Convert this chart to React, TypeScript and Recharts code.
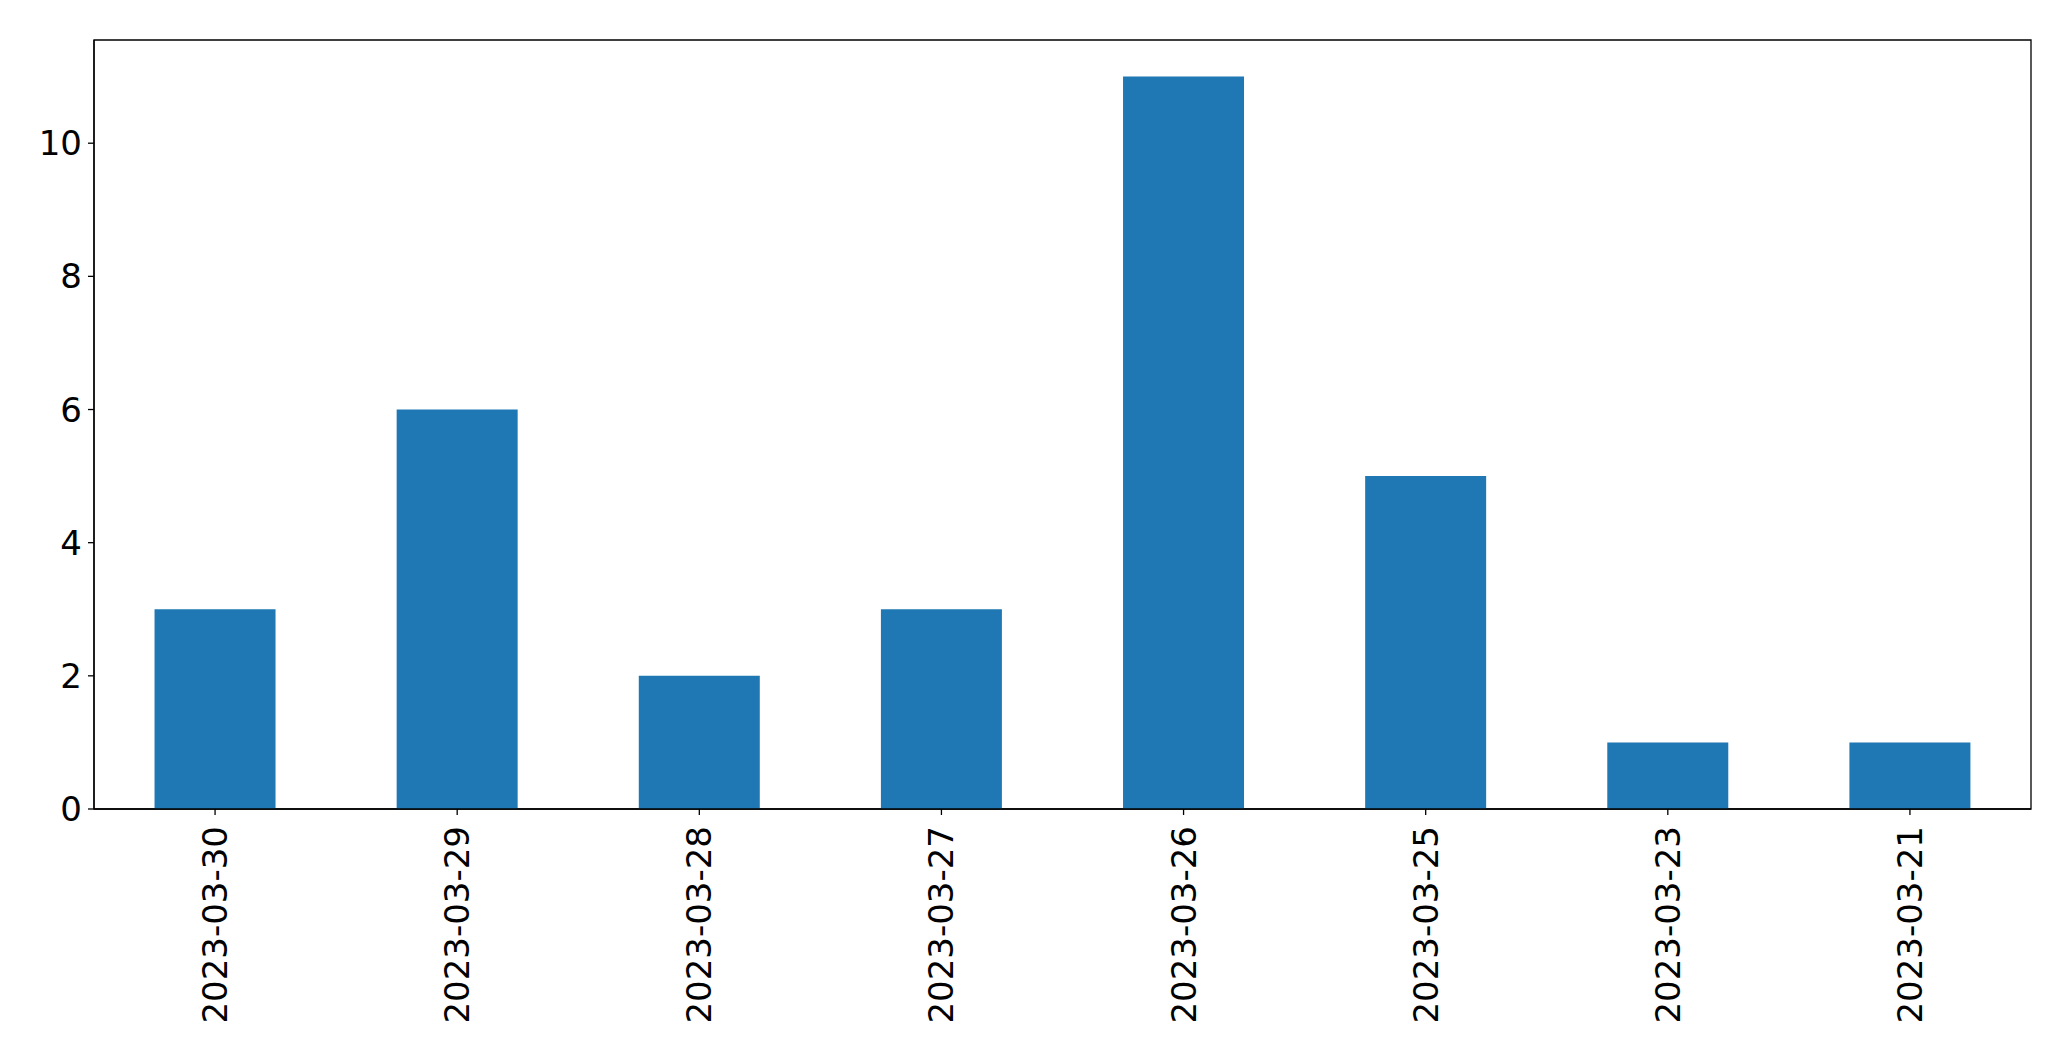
import React from "react";
import { BarChart, Bar, XAxis, YAxis, ReferenceArea } from "recharts";

const categories = ["2023-03-30", "2023-03-29", "2023-03-28", "2023-03-27", "2023-03-26", "2023-03-25", "2023-03-23", "2023-03-21"];
const counts = [3, 6, 2, 3, 11, 5, 1, 1];
const yTicks = [0, 2, 4, 6, 8, 10];
const yMax = 11.55;

const data = categories.map((c, i) => ({ date: c, count: counts[i] }));

const FONT = "DejaVu Sans";
const FS = 34;

const XTick = (props: any) => {
  const { x, y, payload } = props;
  return (
    <g transform={`translate(${x},${y})`}>
      <text
        transform="rotate(-90)"
        x={-9}
        y={0}
        textAnchor="end"
        dominantBaseline="central"
        fontFamily={FONT}
        fontSize={FS}
        fill="#000"
      >
        {payload.value}
      </text>
    </g>
  );
};

export default function App() {
  return (
    <div style={{ position: "absolute", left: 0, top: 0, background: "#fff" }}>
      <BarChart
        width={2071}
        height={1061}
        data={data}
        margin={{ top: 40, right: 40, left: 14, bottom: 12 }}
        barCategoryGap="25%"
      >
        <XAxis
          dataKey="date"
          interval={0}
          height={240}
          tickSize={6}
          tick={<XTick />}
          axisLine={{ stroke: "#000", strokeWidth: 1.3 }}
          tickLine={{ stroke: "#000", strokeWidth: 1.3 }}
        />
        <YAxis
          domain={[0, yMax]}
          ticks={yTicks}
          width={80}
          tickSize={6}
          tickMargin={6}
          interval={0}
          tick={{ fontFamily: FONT, fontSize: FS, fill: "#000" }}
          axisLine={{ stroke: "#000", strokeWidth: 1.3 }}
          tickLine={{ stroke: "#000", strokeWidth: 1.3 }}
        />
        <Bar dataKey="count" fill="#1f77b4" isAnimationActive={false} />
        <ReferenceArea
          y1={0}
          y2={yMax}
          fill="none"
          fillOpacity={0}
          stroke="#000"
          strokeWidth={1.3}
          strokeOpacity={1}
          ifOverflow="visible"
        />
      </BarChart>
    </div>
  );
}
